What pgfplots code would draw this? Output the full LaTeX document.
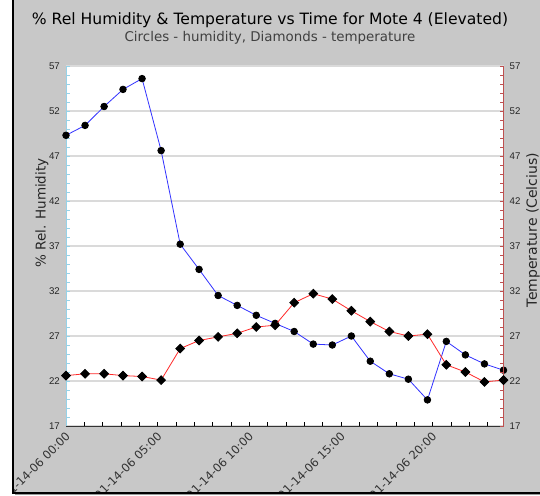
\documentclass[border=0pt]{standalone}
\usepackage{fontspec}
\setmainfont{DejaVu Sans}
\newfontfamily\arialf{Liberation Sans}
\usepackage{pgfplots}
\usepackage{pgfplotstable}
\pgfplotsset{compat=1.18}

\definecolor{panel}{RGB}{200,200,200}
\definecolor{humline}{RGB}{50,50,255}
\definecolor{templine}{RGB}{255,40,40}
\definecolor{leftax}{RGB}{150,210,232}
\definecolor{rightax}{RGB}{190,80,80}
\definecolor{gridc}{RGB}{218,218,218}

% time in hours since 01-14-06 00:00
\pgfplotstableread{
t      hum   temp
0.00   49.3  22.6
1.04   50.4  22.8
2.08   52.5  22.8
3.11   54.4  22.6
4.15   55.6  22.5
5.19   47.6  22.1
6.23   37.2  25.6
7.26   34.4  26.5
8.30   31.5  26.9
9.34   30.4  27.3
10.38  29.3  28.0
11.41  28.4  28.2
12.45  27.5  30.7
13.49  26.1  31.7
14.53  26.0  31.1
15.57  27.0  29.8
16.60  24.2  28.6
17.64  22.8  27.5
18.68  22.2  27.0
19.72  19.9  27.2
20.75  26.4  23.8
21.79  24.9  23.0
22.83  23.9  21.9
23.87  23.2  22.1
}\moteData

\pgfplotsset{
  moteaxis/.style={
    at={(66pt,69pt)}, anchor=south west,
    width=437.5pt, height=360pt, scale only axis,
    xmin=0, xmax=23.87, ymin=17, ymax=57,
    ytick={17,22,...,57}, minor y tick num=4,
    tick align=inside, major tick length=4pt, minor tick length=4pt,
    clip=false,
    /pgf/number format/assume math mode=true,
    yticklabel style={font=\arialf\fontsize{9.7}{11}\selectfont, text=black!85, inner sep=0pt},
  }
}

\begin{document}
\begin{tikzpicture}
\useasboundingbox (0pt,0pt) rectangle (540pt,495pt);
\fill[panel] (13pt,2pt) rectangle (540pt,495pt);
\begin{scope}
\clip (13pt,2pt) rectangle (540pt,495pt);

\begin{axis}[moteaxis,
    axis background/.style={fill=white},
    axis x line*=bottom, axis y line*=left,
    x axis line style={black!80, line width=1pt},
    y axis line style={leftax, line width=1pt},
    x tick style={black, line width=0.8pt},
    y tick style={leftax, line width=0.8pt},
    xtick={0,5,10,15,20}, minor xtick={1,...,23},
    xticklabels={01-14-06 00:00,01-14-06 05:00,01-14-06 10:00,01-14-06 15:00,01-14-06 20:00},
    xticklabel style={font=\fontsize{11.5}{13}\selectfont, text=black!80, inner sep=0pt,
        xshift=2pt, yshift=-8pt, rotate=45, anchor=east},
    yticklabel style={anchor=east, xshift=-6pt},
    ymajorgrids, grid style={gridc, line width=1.3pt},
]
  \addplot[humline, line width=0.8pt, mark=*, mark size=3.3pt,
      mark options={fill=black, draw=black}] table[x=t, y=hum] {\moteData};
\end{axis}

\begin{axis}[moteaxis,
    axis x line=none, axis y line*=right,
    y axis line style={rightax, line width=1pt},
    y tick style={rightax, line width=0.8pt},
    xtick=\empty,
    yticklabel style={anchor=west, xshift=6pt},
]
  \addplot[templine, line width=0.8pt, mark=square*, mark size=3.1pt,
      mark options={fill=black, draw=black, rotate=45}] table[x=t, y=temp] {\moteData};
\end{axis}

\node[anchor=base, font=\fontsize{15.6}{18}\selectfont] at (270pt,470pt)
  {\% Rel Humidity \& Temperature vs Time for Mote 4 (Elevated)};
\node[anchor=base, font=\fontsize{13.4}{16}\selectfont, text=black!75] at (270pt,453pt)
  {Circles - humidity, Diamonds - temperature};
\node[rotate=90, font=\fontsize{13.5}{16}\selectfont, text=black!85] at (42pt,282pt)
  {\% Rel. Humidity};
\node[rotate=90, font=\fontsize{14}{16}\selectfont, text=black!85] at (533pt,265pt)
  {Temperature (Celcius)};
\end{scope}
\draw[black!40, line width=1pt] (15pt,0.5pt) -- (540pt,0.5pt);
\draw[black, line width=1.2pt] (13pt,495pt) -- (13pt,2pt) -- (540pt,2pt);
\end{tikzpicture}
\end{document}
